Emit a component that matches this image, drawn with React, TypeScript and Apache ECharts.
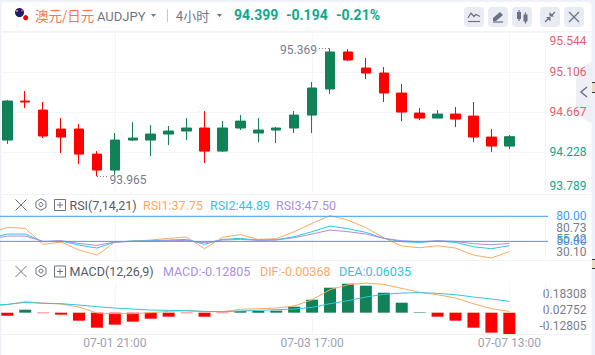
import React, { useEffect, useRef } from "react";
import * as echarts from "echarts";

const timeLabels = ["07-01 21:00", "07-03 17:00", "07-07 13:00"];
const priceLabels = [93.789, 94.228, 94.667, 95.106, 95.544];
const priceGridValues = [94.228, 94.667, 95.106, 95.544];
const rsiGuides = [50, 80];
const rsiScaleLabels = ["80.73", "55.42", "30.10"];
const macdScaleLabels = ["0.18308", "0.02752", "-0.12805"];

// open, close, low, high
const candles = [
  [94.362, 94.79, 94.32, 94.801],
  [94.79, 94.779, 94.713, 94.9],
  [94.691, 94.406, 94.384, 94.779],
  [94.483, 94.395, 94.219, 94.603],
  [94.483, 94.208, 94.098, 94.537],
  [94.208, 94.033, 93.965, 94.241],
  [94.033, 94.362, 93.978, 94.439],
  [94.362, 94.384, 94.351, 94.559],
  [94.362, 94.428, 94.186, 94.526],
  [94.428, 94.461, 94.307, 94.516],
  [94.461, 94.494, 94.362, 94.603],
  [94.494, 94.241, 94.109, 94.68],
  [94.241, 94.494, 94.23, 94.57],
  [94.494, 94.57, 94.472, 94.636],
  [94.439, 94.472, 94.34, 94.603],
  [94.472, 94.494, 94.329, 94.505],
  [94.494, 94.636, 94.439, 94.68],
  [94.636, 94.933, 94.439, 94.999],
  [94.922, 95.328, 94.867, 95.369],
  [95.328, 95.24, 95.229, 95.36],
  [95.152, 95.097, 95.031, 95.262],
  [95.097, 94.878, 94.779, 95.163],
  [94.878, 94.669, 94.57, 94.977],
  [94.658, 94.603, 94.581, 94.713],
  [94.603, 94.647, 94.603, 94.691],
  [94.647, 94.592, 94.505, 94.724],
  [94.625, 94.395, 94.34, 94.779],
  [94.395, 94.296, 94.23, 94.483],
  [94.296, 94.399, 94.263, 94.417],
];

// the lines start one bar before the first visible candle
const rsi1 = [59.57, 66.76, 65.56, 46.4, 49.19, 39.61, 33.63, 49.19, 50.39, 51.59, 53.58, 55.18, 41.21, 54.78, 57.97, 52.39, 53.19, 61.57, 71.55, 80.73, 75.5, 66.36, 54.38, 44.4, 42.41, 44.8, 42.0, 33.63, 30.1, 37.75];
const rsi2 = [53.58, 58.77, 58.77, 49.59, 50.39, 45.6, 42.0, 49.19, 50.39, 50.79, 51.59, 52.39, 46.4, 52.39, 53.58, 51.59, 51.99, 55.58, 61.57, 68.35, 65.16, 60.77, 53.58, 49.59, 48.79, 50.39, 48.79, 43.6, 41.21, 44.89];
const rsi3 = [52.39, 56.38, 56.38, 49.99, 50.79, 47.5, 45.2, 49.19, 49.99, 50.39, 50.79, 51.19, 48.39, 51.59, 52.39, 51.19, 51.59, 54.38, 58.77, 63.56, 61.57, 58.77, 53.58, 50.79, 49.59, 50.79, 49.99, 47.2, 46.0, 47.5];

const macdBars = [-0.018, 0.018, -0.003, -0.012, -0.048, -0.09, -0.072, -0.054, -0.036, -0.024, -0.003, -0.024, -0.003, 0.01, 0.01, 0.012, 0.036, 0.078, 0.15, 0.174, 0.162, 0.12, 0.06, 0.003, -0.024, -0.048, -0.09, -0.12, -0.128];
const dif = [0.04, 0.048, 0.066, 0.058, 0.052, 0.034, -0.002, -0.006, -0.006, 0, 0.008, 0.012, 0.006, 0.006, 0.02, 0.024, 0.028, 0.04, 0.078, 0.138, 0.168, 0.178, 0.17, 0.146, 0.122, 0.108, 0.088, 0.054, 0.024, 0.008];
const dea = [0.044, 0.05, 0.062, 0.056, 0.054, 0.046, 0.036, 0.028, 0.022, 0.016, 0.014, 0.012, 0.008, 0.006, 0.01, 0.014, 0.018, 0.022, 0.032, 0.054, 0.072, 0.094, 0.11, 0.118, 0.12, 0.116, 0.108, 0.094, 0.082, 0.068];

const GREEN = "#118257";
const RED = "#ff0000";
const TEAL = "#10a88c";
const SALMON = "#e2616d";
const ORANGE = "#fba863";
const CYAN = "#33c4dd";
const PURPLE = "#a98ee3";
const BLUE = "#3d9df5";
const GRAY = "#787d8c";
const GRID = "#f3f5fa";
const ICON = "#6c7183";
const FONT = "Roboto";

const X_OFFSET = 5; // so that the tick multiples of 11 fall on the labelled bars
const X_MAX = 35.03;
const GRID_LEFT = -82.35;
const GRID_WIDTH = 628.05;

const shift = (i: number) => i + X_OFFSET;
const lineData = (vals: number[]) => vals.map((v, i) => [shift(i - 1), v]);

function xAxis(gridIndex: number, showLabel: boolean) {
  return {
    type: "value",
    gridIndex,
    min: 0,
    max: X_MAX,
    interval: 11,
    axisLine: { show: false },
    axisTick: { show: false },
    splitLine: { show: true, lineStyle: { color: GRID, width: 1 } },
    axisLabel: {
      show: showLabel,
      margin: 3,
      color: "#9ca1b1",
      fontFamily: FONT,
      fontSize: 12,
      hideOverlap: false,
      formatter: (v: number) => (v % 11 === 0 && v > 0 ? timeLabels[v / 11 - 1] ?? "" : ""),
    },
  };
}

function txt(x: number, y: number, text: string, fill: string, fontSize = 12.5, extra: any = {}) {
  return {
    type: "text",
    x,
    y,
    style: { text, fill, fontFamily: FONT, fontSize, verticalAlign: "middle", align: "left", ...extra },
  };
}

function panelIcons(cy: number) {
  const hex = [0, 1, 2, 3, 4, 5].map((k) => {
    const a = Math.PI / 2 + (k * Math.PI) / 3;
    return [41 + 5.8 * Math.cos(a), cy - 0.5 + 5.8 * Math.sin(a)];
  });
  const ls = { stroke: ICON, lineWidth: 1, fill: "none" };
  return [
    { type: "line", shape: { x1: 15.5, y1: cy - 5.5, x2: 26.5, y2: cy + 5.5 }, style: ls },
    { type: "line", shape: { x1: 26.5, y1: cy - 5.5, x2: 15.5, y2: cy + 5.5 }, style: ls },
    { type: "polygon", shape: { points: hex }, style: ls },
    { type: "circle", shape: { cx: 41, cy: cy - 0.5, r: 2 }, style: ls },
    { type: "rect", shape: { x: 54.5, y: cy - 5.5, width: 11, height: 11 }, style: ls },
    { type: "line", shape: { x1: 57, y1: cy, x2: 63, y2: cy }, style: ls },
    { type: "line", shape: { x1: 60, y1: cy - 3, x2: 60, y2: cy + 3 }, style: ls },
  ];
}

function headerButtons() {
  const xs = [464, 488, 512, 540, 564];
  const out: any[] = xs.map((x) => ({
    type: "rect",
    shape: { x, y: 7, width: 20, height: 20, r: 4 },
    style: { fill: "#e9ebf2" },
  }));
  const ls = { stroke: ICON, lineWidth: 1.2, fill: "none" };
  const fs = { fill: ICON };
  out.push(
    { type: "polyline", shape: { points: [[468, 18], [471, 13], [474, 16.5], [476, 14.5], [480, 16.5]] }, style: ls },
    { type: "line", shape: { x1: 468, y1: 21.5, x2: 480, y2: 21.5 }, style: ls },
    { type: "polygon", shape: { points: [[493, 18], [500, 12], [503, 15], [496, 21], [493, 21]] }, style: fs },
    { type: "line", shape: { x1: 493, y1: 22, x2: 503, y2: 22 }, style: ls },
    { type: "rect", shape: { x: 517, y: 12, width: 4, height: 7 }, style: fs },
    { type: "line", shape: { x1: 519, y1: 10, x2: 519, y2: 21 }, style: ls },
    { type: "rect", shape: { x: 523.5, y: 14.5, width: 4, height: 7 }, style: fs },
    { type: "line", shape: { x1: 525.5, y1: 12.5, x2: 525.5, y2: 23.5 }, style: ls },
    { type: "line", shape: { x1: 545, y1: 22, x2: 549, y2: 18 }, style: ls },
    { type: "polygon", shape: { points: [[546, 17], [550.5, 17], [550.5, 21.5]] }, style: fs },
    { type: "line", shape: { x1: 555, y1: 12, x2: 551.5, y2: 15.5 }, style: ls },
    { type: "polygon", shape: { points: [[549.5, 12], [549.5, 16.5], [554, 16.5]] }, style: fs },
    { type: "line", shape: { x1: 569, y1: 12, x2: 579, y2: 22 }, style: ls },
    { type: "line", shape: { x1: 579, y1: 12, x2: 569, y2: 22 }, style: ls },
  );
  return out;
}

function buildGraphic() {
  const sep = (y: number) => ({
    type: "line",
    shape: { x1: 2, y1: y, x2: 591, y2: y },
    style: { stroke: "#f0f2f7", lineWidth: 1 },
  });
  const back = [
    { type: "rect", z: -10, shape: { x: 1.5, y: 2, width: 590, height: 353, r: [4, 4, 0, 0] }, style: { fill: "#ffffff" } },
  ].map((e) => ({ ...e, silent: true }));
  const tri = (x: number, y: number) => ({
    type: "polygon",
    shape: { points: [[x, y], [x + 5, y], [x + 2.5, y + 3]] },
    style: { fill: ICON },
  });
  const elements: any[] = [
    ...back,
    sep(31.5),
    sep(194.5),
    sep(260.5),
    sep(334.5),
    { type: "circle", shape: { cx: 19.5, cy: 12.5, r: 4.5 }, style: { fill: "#1b1b6f" } },
    { type: "circle", shape: { cx: 22, cy: 10.5, r: 1.2 }, style: { fill: "#e33" } },
    { type: "circle", shape: { cx: 17, cy: 11, r: 1 }, style: { fill: "#e88" } },
    { type: "circle", shape: { cx: 25.7, cy: 17.7, r: 2.6 }, style: { fill: "#f00000" } },
    txt(35, 15, "澳元/日元", "#f6754f", 13.5, { fontFamily: "Noto Sans CJK SC" }),
    txt(97, 16, "AUDJPY", "#6f7585", 13),
    tri(151, 14),
    { type: "line", shape: { x1: 167.5, y1: 9, x2: 167.5, y2: 22 }, style: { stroke: "#c5c8d2", lineWidth: 1 } },
    txt(176, 15, "4小时", "#6f7585", 13, { fontFamily: "Noto Sans CJK SC" }),
    tri(217, 14),
    txt(234, 15, "94.399", TEAL, 14, { fontWeight: "bold" }),
    txt(286, 15, "-0.194", TEAL, 14, { fontWeight: "bold" }),
    txt(336, 15, "-0.21%", TEAL, 14, { fontWeight: "bold" }),
    ...headerButtons(),
    {
      type: "polygon",
      shape: { points: [[592, 61], [576, 71], [576, 114], [592, 124]] },
      style: { fill: "#eeeef4" },
    },
    { type: "polyline", shape: { points: [[587, 87], [581, 92], [587, 97]] }, style: { stroke: ICON, lineWidth: 1.5, fill: "none" } },
    { type: "rect", shape: { x: 592, y: 82.5, width: 3, height: 9.5 }, style: { fill: "#e8dccb" } },
    { type: "line", shape: { x1: 592, y1: 82.5, x2: 595, y2: 82.5 }, style: { stroke: "#333", lineWidth: 1 } },
    { type: "line", shape: { x1: 592, y1: 92.5, x2: 595, y2: 92.5 }, style: { stroke: "#333", lineWidth: 1 } },
    { type: "rect", shape: { x: 592, y: 259, width: 3, height: 9 }, style: { fill: "#e8dccb" } },
    { type: "line", shape: { x1: 592, y1: 259.5, x2: 595, y2: 259.5 }, style: { stroke: "#333", lineWidth: 1 } },
    { type: "line", shape: { x1: 592, y1: 268.5, x2: 595, y2: 268.5 }, style: { stroke: "#333", lineWidth: 1 } },
    ...panelIcons(205),
    ...panelIcons(271.5),
    txt(69.5, 205, "RSI(7,14,21)", "#555a66"),
    txt(143, 205, "RSI1:37.75", ORANGE),
    txt(210, 205, "RSI2:44.89", CYAN),
    txt(276, 205, "RSI3:47.50", PURPLE),
    txt(69.5, 271.5, "MACD(12,26,9)", "#555a66"),
    txt(163, 271.5, "MACD:-0.12805", PURPLE),
    txt(260, 271.5, "DIF:-0.00368", ORANGE),
    txt(339, 271.5, "DEA:0.06035", CYAN),
    ...[227.7, 239.3, 251.7].map((y, i) => txt(586.5, y, rsiScaleLabels[i], GRAY, 12, { align: "right" })),
    ...[294, 309.5, 326].map((y, i) => txt(586.5, y, macdScaleLabels[i], GRAY, 12, { align: "right" })),
  ];
  return { elements };
}

function rsiSeries(name: string, vals: number[], color: string, z = 3) {
  return {
    type: "line",
    name,
    xAxisIndex: 1,
    yAxisIndex: 1,
    data: lineData(vals),
    showSymbol: false,
    smooth: false,
    clip: false,
    z,
    lineStyle: { color, width: 1 },
  };
}

export default function App() {
  const ref = useRef<HTMLDivElement>(null);
  useEffect(() => {
    document.body.style.margin = "0";
    document.body.style.background = "#eef1f8";
    const chart = echarts.init(ref.current!, undefined, { renderer: "svg" });
    const gridBase = { left: GRID_LEFT, width: GRID_WIDTH, outerBoundsMode: "none", containLabel: false };
    chart.setOption({
      animation: false,
      backgroundColor: "transparent",
      textStyle: { fontFamily: FONT },
      graphic: buildGraphic(),
      grid: [
        { ...gridBase, top: 32.3, height: 160 },
        { ...gridBase, top: 215.7, height: 42.3 },
        { ...gridBase, top: 282.2, height: 51.8 },
      ],
      xAxis: [xAxis(0, false), xAxis(1, false), xAxis(2, true)],
      yAxis: [
        {
          type: "value",
          gridIndex: 0,
          position: "right",
          min: priceLabels[0],
          max: priceLabels[4],
          axisLine: { show: false },
          axisTick: { show: false, customValues: priceGridValues },
          splitLine: { show: true, lineStyle: { color: GRID } },
          axisLabel: {
            customValues: priceLabels,
            align: "right",
            margin: 40.8,
            fontFamily: FONT,
            fontSize: 12,
            formatter: (v: number) => v.toFixed(3),
            color: (v: any) => (Number(v) > 94.4 ? SALMON : TEAL),
            padding: [3, 0, 0, 0],
            verticalAlignMinLabel: "bottom",
            verticalAlignMaxLabel: "top",
          },
        },
        {
          type: "value",
          gridIndex: 1,
          position: "right",
          min: 30.1,
          max: 80.73,
          axisLine: { show: false },
          axisTick: { show: false, customValues: rsiGuides },
          splitLine: { show: false },
          z: 5,
          axisLabel: {
            customValues: rsiGuides,
            align: "right",
            margin: 40.8,
            fontFamily: FONT,
            fontSize: 12,
            color: BLUE,
            formatter: (v: number) => v.toFixed(2),
          },
        },
        {
          type: "value",
          gridIndex: 2,
          position: "right",
          min: -0.12805,
          max: 0.18308,
          axisLine: { show: false },
          axisTick: { show: false },
          splitLine: { show: false },
          axisLabel: { show: false },
        },
      ],
      series: [
        {
          type: "candlestick",
          xAxisIndex: 0,
          yAxisIndex: 0,
          barWidth: 10,
          encode: { x: 0, y: [1, 2, 3, 4] },
          data: candles.map((c, i) => [shift(i), ...c]),
          itemStyle: { color: GREEN, color0: RED, borderColor: GREEN, borderColor0: RED, borderWidth: 1 },
          markPoint: {
            symbol: "circle",
            symbolSize: 0,
            silent: true,
            label: { show: true, color: GRAY, fontFamily: FONT, fontSize: 12, position: "left", distance: 1 },
            data: [
              { coord: [shift(17.33), 95.369], value: "95.369", label: { position: "left", offset: [0, 2] } },
              { coord: [shift(5.65), 93.965], value: "93.965", label: { position: "right", offset: [0, 4] } },
            ],
          },
          markLine: {
            silent: true,
            symbol: "none",
            label: { show: false },
            lineStyle: { color: "#777", type: [1, 2], width: 1 },
            data: [
              [{ coord: [shift(17.38), 95.369] }, { coord: [shift(18), 95.369] }],
              [{ coord: [shift(5), 93.965] }, { coord: [shift(5.6), 93.965] }],
            ],
          },
        },
        rsiSeries("RSI1", rsi1, ORANGE),
        rsiSeries("RSI2", rsi2, CYAN),
        rsiSeries("RSI3", rsi3, PURPLE),
        ...rsiGuides.map((g) => ({
          type: "line",
          xAxisIndex: 1,
          yAxisIndex: 1,
          showSymbol: false,
          clip: false,
          z: 4,
          lineStyle: { color: BLUE, width: 1 },
          data: [[0, g], [35.49, g]],
        })),
        {
          type: "bar",
          xAxisIndex: 2,
          yAxisIndex: 2,
          barWidth: 12,
          data: macdBars.map((v, i) => ({
            value: [shift(i), v],
            itemStyle: { color: v >= 0 ? GREEN : RED },
          })),
        },
        {
          type: "line",
          xAxisIndex: 2,
          yAxisIndex: 2,
          showSymbol: false,
          clip: false,
          data: lineData(dif),
          lineStyle: { color: ORANGE, width: 1 },
        },
        {
          type: "line",
          xAxisIndex: 2,
          yAxisIndex: 2,
          showSymbol: false,
          clip: false,
          data: lineData(dea),
          lineStyle: { color: CYAN, width: 1 },
        },
      ],
    });
    return () => chart.dispose();
  }, []);
  return <div ref={ref} style={{ width: 595, height: 355 }} />;
}
